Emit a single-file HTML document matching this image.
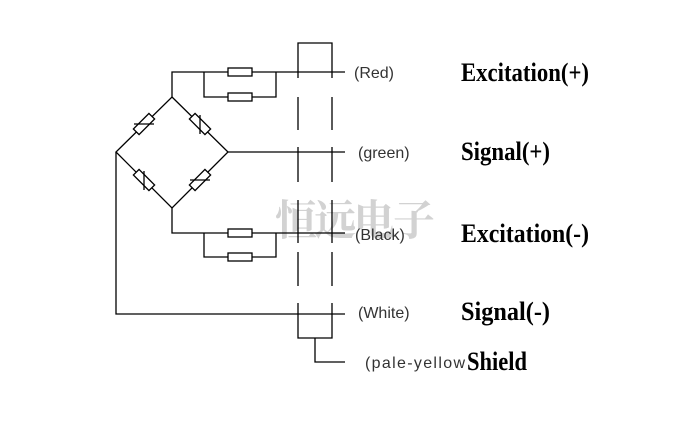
<!DOCTYPE html>
<html><head><meta charset="utf-8"><style>
html,body{margin:0;padding:0;background:#fff;}
svg{display:block;}
.l{font-family:"Liberation Sans",sans-serif;font-size:16px;fill:#333;}
.b{font-family:"Liberation Serif",serif;font-weight:bold;font-size:26px;fill:#000;}
</style></head><body>
<svg width="699" height="442" viewBox="0 0 699 442" xmlns="http://www.w3.org/2000/svg">
<text x="275" y="235" font-family="Noto Serif CJK SC,serif" font-weight="bold" font-size="42" fill="#d2d2d2" textLength="160">恒远电子</text>
<g stroke="#000" stroke-width="1.3" fill="none">
<polyline points="172,97 172,72 345,72"/>
<polyline points="204,72 204,97 276,97 276,72"/>
<rect x="228" y="68" width="24" height="8" fill="#fff"/>
<rect x="228" y="93" width="24" height="8" fill="#fff"/>
<polyline points="172,208 172,233 345,233"/>
<polyline points="204,233 204,257 276,257 276,233"/>
<rect x="228" y="229" width="24" height="8" fill="#fff"/>
<rect x="228" y="253" width="24" height="8" fill="#fff"/>
<polygon points="172,97 228,152 172,208 116,152"/>
<line x1="228" y1="152" x2="345" y2="152"/>
<polyline points="116,152 116,314 345,314"/>
<g fill="#fff">
<rect x="-11" y="-4" width="22" height="8" transform="translate(144,124) rotate(-45)"/>
<rect x="-11" y="-4" width="22" height="8" transform="translate(200,124) rotate(45)"/>
<rect x="-11" y="-4" width="22" height="8" transform="translate(144,180) rotate(45)"/>
<rect x="-11" y="-4" width="22" height="8" transform="translate(200,180) rotate(-45)"/>
</g>
<line x1="134" y1="124" x2="154" y2="124"/>
<line x1="200" y1="115" x2="200" y2="134"/>
<line x1="144" y1="171" x2="144" y2="190"/>
<line x1="190" y1="180" x2="210" y2="180"/>
<polyline points="298,78 298,43 332,43 332,78"/>
<line x1="298" y1="97" x2="298" y2="130"/><line x1="332" y1="97" x2="332" y2="130"/>
<line x1="298" y1="147" x2="298" y2="182"/><line x1="332" y1="147" x2="332" y2="182"/>
<line x1="298" y1="200" x2="298" y2="243"/><line x1="332" y1="200" x2="332" y2="243"/>
<line x1="298" y1="252" x2="298" y2="286"/><line x1="332" y1="252" x2="332" y2="286"/>
<polyline points="298,303 298,338 332,338 332,303"/>
<polyline points="315,338 315,362 345,362"/>
</g>
<text class="l" x="354" y="78">(Red)</text>
<text class="l" x="358" y="158">(green)</text>
<text class="l" x="355" y="240">(Black)</text>
<text class="l" x="358" y="318">(White)</text>
<text class="l" x="365" y="368" textLength="100">(pale-yellow</text>
<text class="b" x="461" y="81" textLength="128" lengthAdjust="spacingAndGlyphs">Excitation(+)</text>
<text class="b" x="461" y="160" textLength="89" lengthAdjust="spacingAndGlyphs">Signal(+)</text>
<text class="b" x="461" y="242" textLength="128" lengthAdjust="spacingAndGlyphs">Excitation(-)</text>
<text class="b" x="461" y="320" textLength="89" lengthAdjust="spacingAndGlyphs">Signal(-)</text>
<text class="b" x="467" y="370" textLength="60" lengthAdjust="spacingAndGlyphs">Shield</text>
</svg>
</body></html>
